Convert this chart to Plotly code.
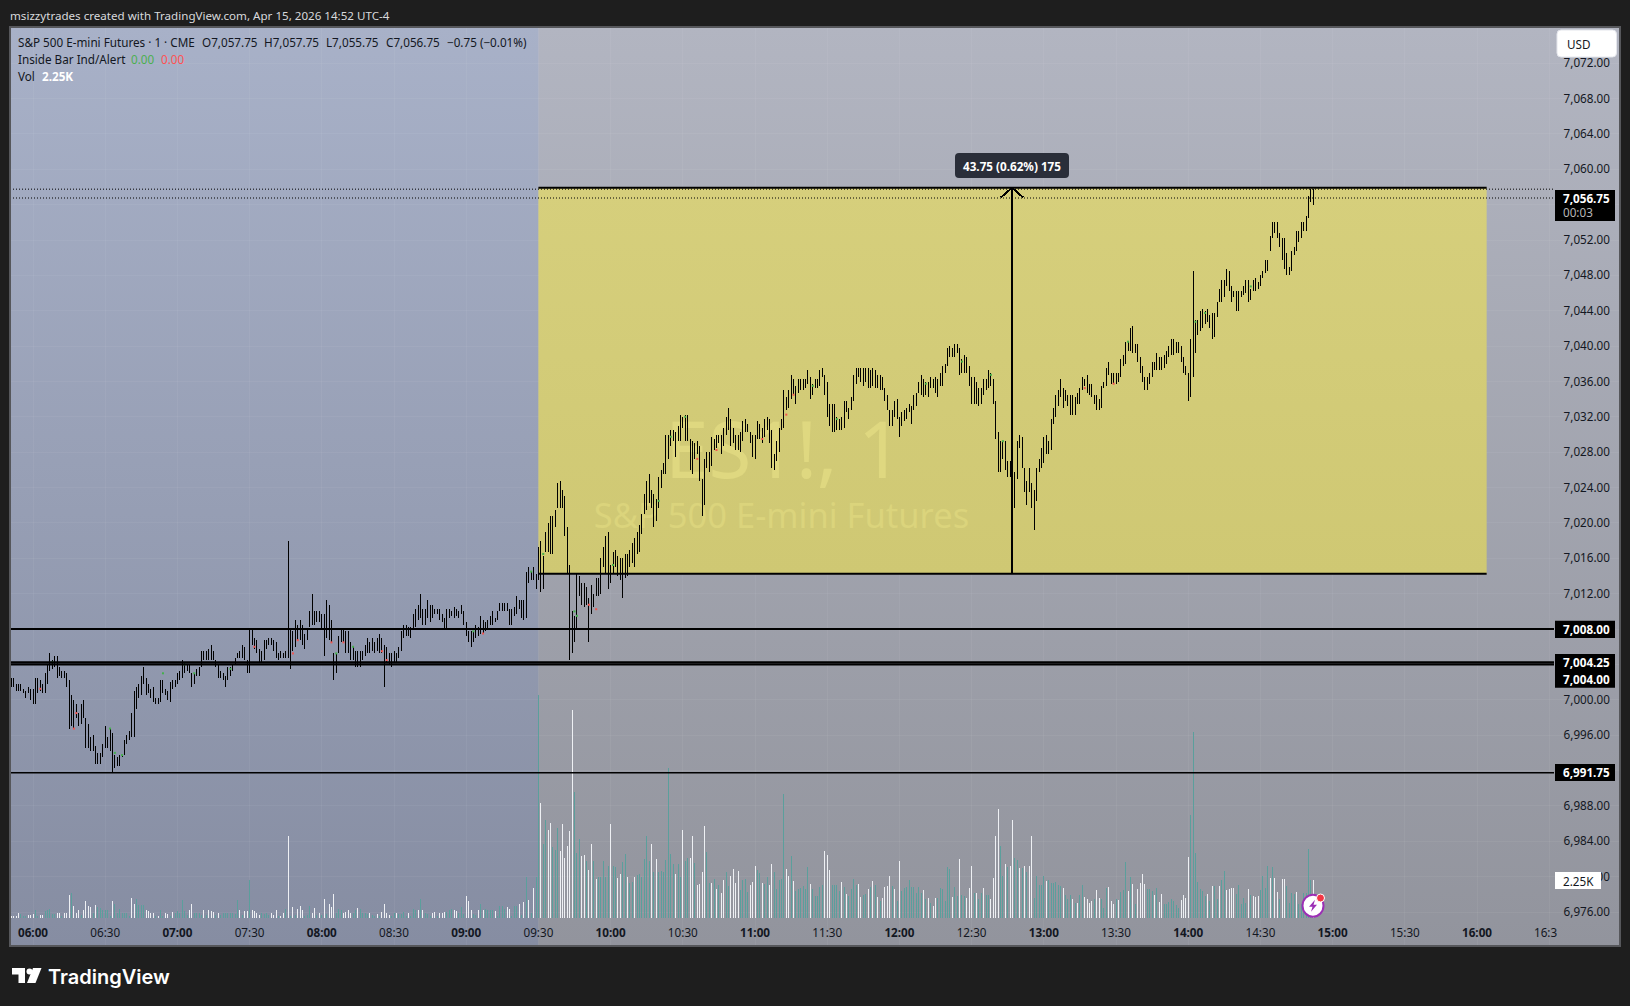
#!/usr/bin/env python3
"""ES1! 1 minute chart, Apr 15 2026, TradingView look."""

from datetime import datetime, timedelta

import plotly.graph_objects as go

W, H = 1630, 1006
FONT = "Noto Sans"

# 1 minute bars, first bar 05:51
price_high = [
    7002.5, 7002.5, 7001.75, 7001.75, 7001.75, 7001.25, 7001, 7001.5, 7001.25, 7001.25,
    7002.5, 7002.5, 7002.25, 7001.75, 7003, 7004, 7005.25, 7004.5, 7005, 7005,
    7003.75, 7003.25, 7003.25, 7003, 7002.25, 7000.5, 7000, 6999.5, 6998.5, 6999.5,
    7000, 6998, 6997.25, 6995.75, 6996, 6994.75, 6994, 6994, 6995, 6997,
    6995.75, 6996.75, 6996.25, 6993.75, 6993.5, 6993.75, 6993.75, 6995.5, 6996, 6996.5,
    6998.5, 7001, 7001.5, 7001.75, 7002.75, 7003.75, 7002.5, 7001.75, 7001.25, 7001.5,
    7000.25, 7000.25, 7002.25, 7002.25, 7001.25, 7001, 7002, 7002.25, 7002.25, 7003,
    7003.25, 7004.5, 7004.25, 7004, 7004, 7003, 7003, 7003.5, 7003.75, 7005.5,
    7005.5, 7005.5, 7005.75, 7006.25, 7005.5, 7004.5, 7004, 7003.25, 7003, 7002.75,
    7003.75, 7003.75, 7004, 7004.75, 7005.25, 7005.5, 7006.25, 7006, 7004.5, 7008,
    7008, 7007, 7006.75, 7005.75, 7005.5, 7006.75, 7006.75, 7007, 7007, 7006.75,
    7006.5, 7005.25, 7005.5, 7005.25, 7005.5, 7018, 7008, 7007.75, 7009, 7008.5,
    7009, 7008.5, 7007.5, 7008, 7010, 7012, 7010, 7010, 7010, 7009.75,
    7009.75, 7011.25, 7010.75, 7009, 7005.25, 7005.25, 7007.25, 7008, 7008, 7007.75,
    7007.75, 7006.5, 7006, 7005.5, 7005.5, 7005.5, 7005.5, 7006.25, 7007, 7006.5,
    7007, 7006.5, 7007, 7007.5, 7007, 7006.25, 7006, 7005.25, 7005.25, 7005.5,
    7005.25, 7006, 7007.75, 7008.5, 7008.5, 7008.25, 7008.25, 7009.75, 7010.25, 7010.75,
    7012, 7010.25, 7010.25, 7011.25, 7010.75, 7010.75, 7010.25, 7010.25, 7010.25, 7009.75,
    7009.25, 7010.25, 7010.25, 7010, 7010.5, 7010.25, 7010, 7010.75, 7010, 7008.75,
    7007.75, 7007.75, 7007.75, 7008.5, 7008.25, 7009.5, 7009, 7008.75, 7009, 7009.5,
    7010, 7009.25, 7010, 7011, 7011, 7011, 7011, 7010.25, 7010.25, 7010.5,
    7011.75, 7011.25, 7011.25, 7011.25, 7014.5, 7015, 7014.5, 7015, 7014.25,
    7017, 7017.75, 7016, 7018.75, 7019.75, 7020.5, 7020.5, 7021.25, 7024.25, 7024.5,
    7023.5, 7022.75, 7019.25, 7015, 7009.75, 7009.25, 7014, 7013.75, 7013, 7013,
    7012.5, 7011.25, 7012.75, 7011.75, 7013.5, 7013.5, 7015.75, 7017, 7018.25, 7018.75,
    7015, 7016.5, 7016.75, 7016, 7015.75, 7015.75, 7016.25, 7016.25, 7016.75, 7017.5,
    7018, 7018.75, 7019.5, 7020.75, 7023, 7024.5, 7025.25, 7023.5, 7023, 7022.5,
    7025, 7025.75, 7026.5, 7029.75, 7029.75, 7030.25, 7030.25, 7030, 7030.75, 7032,
    7031.75, 7032, 7032, 7029.25, 7029, 7028.75, 7029, 7028.5, 7024.75, 7027,
    7027.75, 7027.75, 7029.5, 7029.25, 7029.75, 7029.75, 7029.75, 7030.5, 7031.75, 7032.75,
    7031.5, 7030.5, 7029.75, 7029.75, 7030, 7031.25, 7031.5, 7031, 7030, 7029.75,
    7029.75, 7031.25, 7031, 7030.5, 7031.5, 7031.75, 7031.5, 7030.25, 7027.5, 7029,
    7030.5, 7031.5, 7034.75, 7034, 7034.75, 7036.5, 7036, 7035.25, 7036, 7036,
    7036, 7036, 7037, 7036.25, 7035.5, 7036, 7036, 7037, 7037.25, 7036.5,
    7035.75, 7033.25, 7033.25, 7033.25, 7031.75, 7031.5, 7031.75, 7033.5, 7033.5, 7032.75,
    7034, 7036.5, 7037.25, 7037.25, 7037.25, 7037.25, 7037.25, 7037.25, 7037, 7037.25,
    7037, 7036.5, 7036.5, 7036.25, 7035, 7034.25, 7032.5, 7032.5, 7033.5, 7033.75,
    7031.75, 7032.25, 7032.5, 7032.75, 7033.25, 7033, 7034.25, 7034.5, 7035.75, 7036.5,
    7036, 7035.75, 7035.75, 7036.25, 7036, 7036.25, 7036, 7036.75, 7037.5, 7037.75,
    7039.5, 7039.75, 7039.5, 7040, 7040, 7039.5, 7038.25, 7038.75, 7038.5, 7037.5,
    7036.25, 7036.25, 7035.75, 7035, 7035, 7036, 7036, 7037, 7036.75, 7036,
    7033.5, 7030, 7029, 7029, 7029, 7026.75, 7026.75, 7026.75, 7025.5, 7029,
    7029.75, 7029.5, 7026, 7024.5, 7026, 7024.25, 7023.5, 7026, 7027, 7028.25,
    7029.5, 7029.75, 7029, 7031.5, 7032.75, 7034.25, 7034.75, 7036, 7035, 7034.75,
    7034.25, 7034.25, 7034.25, 7034, 7034.5, 7035, 7036.25, 7036, 7036.5, 7035.5,
    7035.5, 7034.25, 7034.25, 7033.75, 7035.25, 7035.75, 7037.25, 7038, 7036.75, 7036.75,
    7036.75, 7036.75, 7038.25, 7038.75, 7040.25, 7040.25, 7041.75, 7042, 7040, 7040,
    7038.5, 7037.5, 7036.25, 7036.25, 7036.75, 7038, 7038, 7039, 7038.5, 7038.5,
    7038.75, 7039.25, 7039.75, 7040.5, 7040.5, 7040.25, 7040.25, 7039.75, 7038.5, 7037.5,
    7036.75, 7040.5, 7048.25, 7042.75, 7042.75, 7043.75, 7044, 7043.75, 7044, 7043.25,
    7043.5, 7043.5, 7044.75, 7046.25, 7047.25, 7047.25, 7048.5, 7048.25, 7046.5, 7046,
    7046, 7046, 7046, 7046.5, 7047.25, 7047.25, 7046.25, 7047.25, 7047.5, 7047,
    7047.75, 7048.25, 7049.5, 7049.5, 7052.25, 7053.75, 7053.75, 7053.75, 7052.5, 7052,
    7052, 7050.25, 7048.75, 7050.5, 7051, 7052.75, 7052.75, 7053.75, 7053.75, 7054.5,
    7056.75, 7057.75, 7057.75,
]
price_low = [
    7001.5, 7001.5, 7001, 7001, 7001, 7000.75, 7000.25, 7000.75, 7000, 6999.5,
    6999.5, 7000.75, 7001, 7000.75, 7000.75, 7001.75, 7003.25, 7003.5, 7003.75, 7002.5,
    7002.75, 7002.5, 7002.5, 7001.5, 6996.75, 6997, 6996.75, 6998, 6997, 6997.25,
    6998, 6994.5, 6994.5, 6994.25, 6994.25, 6992.75, 6992.75, 6992.75, 6993.5, 6994.5,
    6994.5, 6994.25, 6991.75, 6992.25, 6992.5, 6992.5, 6993.5, 6993.75, 6995, 6995.5,
    6995.75, 6995.75, 6999, 7000.25, 7000.5, 7001.75, 7000.5, 7000.75, 7000.25, 6999.75,
    6999.5, 6999.5, 6999.75, 7000.75, 7000.5, 7000, 6999.75, 7001.25, 7001.5, 7001.75,
    7002.25, 7002.5, 7003, 7003.25, 7003, 7001.5, 7001.75, 7002.75, 7002.75, 7003.75,
    7004.5, 7004.5, 7004.5, 7004.5, 7004.5, 7003.75, 7002.5, 7002.5, 7002.25, 7001.5,
    7002.25, 7002.75, 7003.25, 7004, 7004.75, 7004.75, 7004.75, 7004.5, 7003, 7003,
    7006.25, 7005.75, 7005.25, 7004.25, 7004.25, 7004.5, 7005.75, 7006.25, 7006.25, 7005.5,
    7004.75, 7004.5, 7004.75, 7004.75, 7004.75, 7004.75, 7003.5, 7005.5, 7006, 7006.75,
    7006.75, 7006.25, 7005.75, 7006.75, 7008.25, 7008.5, 7008.5, 7008.75, 7008.75, 7008,
    7005, 7007, 7006.75, 7006.5, 7002.25, 7003, 7005.25, 7006.5, 7006.5, 7005.25,
    7005.25, 7004.5, 7004.5, 7003.75, 7003.75, 7003.75, 7004.5, 7005, 7005.25, 7005.25,
    7005.5, 7005.25, 7005.5, 7005.25, 7005.25, 7001.5, 7004.25, 7004, 7003.75, 7004.25,
    7004.25, 7004.75, 7005.5, 7007, 7007.25, 7007.25, 7007, 7008, 7008.25, 7009,
    7009.25, 7008.5, 7008.5, 7009.25, 7008.75, 7009.25, 7009.75, 7009.75, 7009, 7008.75,
    7008, 7008, 7009.25, 7009.5, 7009.25, 7009.5, 7009.25, 7009.75, 7008.5, 7007.25,
    7006.5, 7006, 7006.5, 7007, 7007.25, 7007.5, 7007.5, 7007.75, 7008, 7008.5,
    7008.5, 7008.75, 7009, 7010, 7010, 7010, 7010, 7008.5, 7008.5, 7009.5,
    7009.75, 7010.25, 7009.25, 7009, 7009.25, 7013.25, 7013.5, 7013.5, 7012.5,
    7013.25, 7012, 7012.25, 7016.5, 7016.5, 7016.25, 7016.25, 7019.25, 7021.5, 7021.5,
    7021.5, 7018.25, 7014, 7004.25, 7005, 7006.25, 7007.75, 7011.5, 7010.5, 7010.25,
    7010.5, 7006.25, 7009.5, 7010.25, 7011.5, 7011.5, 7011.75, 7014.75, 7014, 7012.25,
    7013, 7014, 7014.75, 7013.75, 7013.25, 7011.25, 7013.5, 7013.75, 7014.75, 7015.25,
    7014.75, 7016.25, 7016.5, 7018.5, 7020.75, 7021.25, 7022, 7021.5, 7019.25, 7020,
    7021.5, 7023.75, 7025.25, 7025.25, 7027, 7028.5, 7029, 7027.25, 7029, 7029,
    7030.5, 7029, 7029, 7025.75, 7025.25, 7027, 7027.5, 7024.5, 7020.5, 7021.75,
    7026, 7025.5, 7026.25, 7028, 7028.25, 7028.75, 7027.5, 7028.5, 7029.75, 7030.25,
    7028.5, 7028.75, 7028, 7028, 7027.75, 7029, 7030, 7030, 7028.75, 7027.25,
    7027, 7029.25, 7029.25, 7028.75, 7029.5, 7030.25, 7028.75, 7026, 7025.75, 7026.75,
    7027.75, 7030.25, 7030.5, 7032.5, 7032.75, 7033.75, 7034.25, 7033.25, 7034.5, 7034.75,
    7034.75, 7035, 7035.5, 7033.75, 7034.25, 7035, 7035, 7035.25, 7036.25, 7034.25,
    7031.75, 7030.75, 7030, 7030, 7030.25, 7030.25, 7030.25, 7030.5, 7032.25, 7031.5,
    7032.5, 7033.5, 7035.5, 7036.25, 7035.75, 7035.25, 7035.75, 7035, 7035, 7035.25,
    7035, 7035, 7034.75, 7034.75, 7033.5, 7032.5, 7030.75, 7030.75, 7031.75, 7031.5,
    7029.5, 7030.75, 7031.25, 7031.5, 7032.25, 7031, 7032.5, 7033, 7034.5, 7034.25,
    7034, 7034.25, 7034, 7035, 7035, 7034.5, 7034, 7035.25, 7035.25, 7036.75,
    7037.5, 7038.5, 7038.5, 7038.5, 7039, 7036.5, 7036.75, 7036.75, 7036.75, 7035.25,
    7033.25, 7033.25, 7033.25, 7033, 7033.25, 7034.25, 7034.75, 7035, 7035.25, 7033.25,
    7029.25, 7025.5, 7025.5, 7027, 7025.75, 7025, 7025, 7025, 7021.5, 7024.75,
    7028.25, 7026, 7023.25, 7021.75, 7023.25, 7021.5, 7019, 7022.25, 7025.5, 7026,
    7026.5, 7027.5, 7027.5, 7028, 7031, 7031.75, 7033, 7034, 7032.75, 7033.5,
    7033, 7032, 7032, 7032, 7033.25, 7033.25, 7034.75, 7035.25, 7034.5, 7034.25,
    7034, 7033.25, 7032.5, 7032.5, 7032.75, 7035, 7035.25, 7036.5, 7035.5, 7035.5,
    7035.5, 7035.75, 7036.25, 7037.5, 7037.75, 7039.25, 7039.25, 7039, 7039, 7038,
    7036.75, 7035.75, 7034.75, 7034.75, 7035.5, 7036.25, 7037, 7037, 7037, 7037,
    7037.25, 7037.75, 7038.5, 7038.75, 7038.75, 7039, 7039, 7038, 7036.75, 7036.5,
    7033.5, 7034, 7036.25, 7039, 7041, 7041.5, 7041.75, 7042.25, 7042.5, 7041.75,
    7040.5, 7040.75, 7043, 7044.75, 7044.75, 7045.25, 7046.5, 7046, 7044.75, 7045.25,
    7043.75, 7043.75, 7045.25, 7045.5, 7045.75, 7044.75, 7045, 7046, 7046, 7046.25,
    7046.5, 7047.5, 7048, 7048.25, 7050.5, 7052, 7052.5, 7052, 7051, 7049.5,
    7048.5, 7047.75, 7047.75, 7048.25, 7050, 7050.5, 7051.5, 7052, 7052.75, 7052.75,
    7054.25, 7056, 7055.75,
]

# volume in thousands, tone T = teal, W = white, same order as the bars
vol_k = [
    .1, .1, .1, .3, .25, .1, .1, .2, .2, .25, .5, .1, .2, .2, .4, .45, .55, .25, .25, .3,
    .3, .1, .3, .3, 1.35, 1.45, .7, .3, .45, .2, .5, 1.0, .7, .65, .3, .75, .65, .6, .5, .5,
    .45, .1, 1.0, .8, .3, .55, .3, .3, .3, .1, 1.2, .85, 1.1, .75, .75, .75, .5, .4, .3, .3,
    .1, .1, .5, .1, .3, .25, .1, .35, .3, .4, .3, 1.05, .4, .2, .45, .85, .3, .3, .3, .2,
    .45, .2, .45, .4, .35, .15, .3, .2, .3, .3, .3, .3, .3, .25, 1.05, .45, .15, .4, .4, 2.25,
    .45, .4, .3, .2, .3, .25, .3, .15, .3, .2, .45, .1, .1, .3, .55, 4.85, .1, .65, .15, .55,
    .7, .45, .1, .2, .7, .3, .6, .2, .3, .2, 1.1, .25, .85, .65, 1.4, .3, .55, .45, .3, .35,
    .45, .3, .3, .45, .6, .55, .3, .3, .25, .3, .2, .1, .25, .1, .35, .85, .3, .2, .1, .3,
    .3, .25, .25, .35, .1, .3, .1, .55, .45, .45, 1.1, .45, .3, .25, .1, .3, .35, .1, .3, .3,
    .35, .35, .45, .55, .45, .4, .3, .65, .25, 1.3, 1.0, .5, .25, .2, .45, .85, .45, .55, .5, .5,
    .5, .4, .1, .7, .7, .55, .65, .55, .1, .7, .7, .85, .2, .95, 2.45, 1.05, .3, 1.75, 2.45, 13.2,
    6.8, 4.4, 5.8, 5.2, 5.6, 4.2, 4.0, 5.3, 3.95, 5.55, 3.55, 4.25, 5.15, 12.3, 7.45, 3.85, 4.65, 3.65, 3.75, 3.4,
    2.85, 4.4, 3.4, 2.3, 2.45, 2.45, 3.4, 2.45, 3.05, 5.55, 3.1, 3.0, 2.35, 2.6, 3.3, 3.8, 2.45, 2.1, 2.15, 2.45,
    2.55, 2.6, 2.4, 3.5, 4.85, 3.4, 4.35, 2.75, 3.5, 2.75, 2.8, 2.75, 3.45, 8.85, 3.8, 3.2, 2.6, 3.2, 2.45, 5.2,
    3.35, 3.55, 3.55, 4.85, 3.25, 1.95, 2.0, 2.75, 5.45, 3.9, 2.1, 2.1, 2.3, 1.7, 1.95, 1.5, 2.25, 2.75, 1.9, 2.5,
    2.9, 2.1, 2.8, 1.65, 2.25, 2.3, 1.55, 1.95, 2.15, 3.05, 2.85, 2.65, 2.1, 2.0, 2.4, 1.95, 3.2, 2.75, 1.7, 2.25,
    2.3, 7.35, 2.9, 2.5, 3.65, 2.2, 1.6, 1.7, 1.8, 1.9, 1.7, 3.0, 2.0, 1.7, 1.3, 1.3, 1.85, 1.95, 3.95, 3.75,
    2.85, 1.95, 1.95, 1.95, 1.6, 2.15, 1.85, 1.4, 1.3, 1.7, 2.3, 1.95, 2.0, 1.25, 1.35, 1.4, 1.7, 1.85, 2.2, 1.95,
    1.25, 1.0, 1.2, 1.85, 1.9, 2.5, 1.9, 1.7, 1.0, 3.4, 1.6, 1.8, 1.85, 2.25, 1.85, 1.85, 1.5, 1.85, 1.45, 1.65,
    1.1, 1.2, .9, .7, 1.2, 1.2, 1.75, 1.7, 1.0, 3.0, 2.9, 1.25, 1.85, 1.3, 3.5, 1.35, 1.3, 1.2, 1.8, 3.05,
    1.45, 1.5, 1.15, 1.45, 1.8, 1.35, 1.35, 1.15, 2.35, 4.85, 6.45, 4.25, 2.5, 3.2, 3.0, 3.05, 5.8, 3.55, 3.45, 2.95,
    2.95, 3.05, 2.75, 3.05, 4.85, 1.2, 2.5, 1.95, 1.95, 2.5, 2.2, 2.25, 2.05, 2.05, 2.15, 1.95, 1.9, 1.8, 1.35, 1.15,
    1.35, 1.1, .9, .9, 1.35, 1.95, 1.25, 1.15, .9, 1.0, 1.15, 1.65, 1.2, 1.1, .6, 1.8, 1.85, 1.0, .85, 1.15,
    1.05, 1.55, 1.65, 3.3, 1.6, 2.4, 2.0, .8, 1.7, 2.1, 2.6, 2.0, 1.7, 1.7, 1.6, 1.35, 1.8, .95, 1.4, .8,
    .85, .95, 1.1, 1.0, .75, .6, 1.05, 1.35, 1.2, 3.6, 6.1, 11.0, 3.85, 2.15, 1.7, 1.6, 1.3, 1.4, 1.0, 1.9,
    1.9, 1.1, 1.9, 2.25, 2.8, 1.65, 1.7, 1.75, 1.8, 1.4, 1.95, .85, 1.2, .9, 1.7, 1.35, 1.3, 1.25, 1.3, 1.65,
    2.5, 1.75, 3.05, 2.35, 3.0, 2.35, 1.55, 1.1, 2.3, 2.3, 1.9, .9, 1.45, 1.4, 1.55, .8, .8, 1.45, 1.5, 4.1, 2.25, 2.25,
]
vol_tone = (
    "WWWWTTTWWWTTWWTTTTTW" "WTWWWTWWWTWWWWTWTTTT" "TTWTTTTTTTWWTTTTWWWW" "TWTTWWTWTTTTTTWWTTTT"
    "WTWWWTWTTTTTTTTWTWWT" "WWWWTTTTWWWTWWTWTWTW" "WWTTTWWTWTWTWWWTTTWW" "WWTTWTTTTWTTWTWWWWTT"
    "WTTTTWTTTWTWTTTWWTWW" "WTTTWWTTTWWWTTWTWTTT" "TWTTTTWWTTTWTWTWTWTT" "WTTWWTTTWWWWWWTTTWWT"
    "WWTWTTTTTWTTWWTTWTTW" "TTTTTTWTWTTTTTTTWTTW" "TTWWTWWWWTTWTWTWWTTW" "WWWTTTTWWWTTWTTWWTTT"
    "TTWWTWTTTTTTWTTTTTWW" "WTTTTWTWTTTTWWTTWTWT" "WTWWWWTWTWTTTTTTTTTW" "TWTWWTTTTTTWTTWTTWWW"
    "TWTTWTTWWWWTTWTWWTTW" "TWTWWTTTTTWTTTTTTWTT" "TWTWTTWWWWTWWTTTWWWT" "WTTTWTWTWWWWTTTWTWWT"
    "TTTTTTWWWWTTTTTTTWTW" "TTWTTWWWWTTTTTWTWWWT" "TTTWTWWTWWTTTTWTTTTTTW"
)
assert len(price_high) == len(price_low) == len(vol_k) == len(vol_tone)

# inside bar dots: minutes after 06:00 and price
green_min = [8, 32, 34, 37, 54, 63, 67, 82, 126, 133, 183, 207, 212, 225, 226, 241, 260, 265, 271, 324, 334, 371, 386, 398, 403, 455, 483, 487, 506]
green_px = [7004.25, 6996.75, 6994, 6993.75, 7003, 7004, 7003, 7003.5, 7005.25, 7006, 7007.75, 7014.5, 7016.25, 7009.75, 7009.25, 7015, 7022.25, 7029.5, 7031.75, 7035.25, 7031.5, 7035.5, 7038, 7036.5, 7029, 7040.25, 7042.5, 7043.5, 7046.5]
red_min = [3, 17, 18, 92, 108, 110, 124, 129, 145, 147, 187, 231, 234, 276, 284, 303, 313, 316, 437, 449]
red_px = [7001.25, 6996.75, 6998.5, 7006, 7005.25, 7006.75, 7006.5, 7006.5, 7005.5, 7004.5, 7007.5, 7010.5, 7010, 7027, 7028, 7029.25, 7032, 7034.25, 7035, 7035.5]

level_solid = [7008.0, 7004.25, 7004.0, 6991.75]
level_width = [2, 2.2, 2.2, 1.6]
box_low, box_high = 7014.25, 7057.9
prior_high, last_close = 7057.75, 7056.75
grid_prices = list(range(6976, 7076, 4))
hidden_prices = [6992, 7004, 7008, 7056]  # sit behind the black price tags
tick_prices = [p for p in grid_prices if p not in hidden_prices]
tick_minutes = list(range(0, 631, 30))

DAY0 = datetime(2026, 4, 15, 6, 0)
BG_LEFT = ["#868da2", "#a8b1c8"]
BG_RIGHT = ["#92949d", "#b2b5c1"]
BOX_FILL = ["#cfc873", "#d6cf7c"]

session = 210
# prices from 09:30 on were read against the box bottom taken as 7014.00, it is a quarter higher
READ_SHIFT = 0.25


def t(minute):
    return DAY0 + timedelta(minutes=minute)


def px(x):
    return x / W


def py(y):
    return 1 - y / H


def read_fix(mins, prices):
    return [min(p + READ_SHIFT, prior_high) if m >= session else p for m, p in zip(mins, prices)]


def panel(x0, x1, y0, y1, colors):
    return go.Scatter(
        x=[x0, x1, x1, x0, x0], y=[y0, y0, y1, y1, y0],
        mode="lines", line=dict(width=0), fill="toself",
        fillgradient=dict(type="vertical", colorscale=[[0, colors[0]], [1, colors[1]]]),
        hoverinfo="skip", showlegend=False,
    )


def sticks(xs, lows, highs, color, yaxis="y"):
    # vertical 1px strokes, None breaks the line between bars
    sx, sy = [], []
    for x, lo, hi in zip(xs, lows, highs):
        sx += [x, x, None]
        sy += [lo, hi, None]
    return go.Scatter(x=sx, y=sy, yaxis=yaxis, mode="lines", line=dict(color=color, width=1),
                      hoverinfo="skip", showlegend=False)


def rounded(x0, y0, x1, y1, r):
    return (f"M{px(x0 + r)},{py(y0)} L{px(x1 - r)},{py(y0)} Q{px(x1)},{py(y0)} {px(x1)},{py(y0 + r)} "
            f"L{px(x1)},{py(y1 - r)} Q{px(x1)},{py(y1)} {px(x1 - r)},{py(y1)} L{px(x0 + r)},{py(y1)} "
            f"Q{px(x0)},{py(y1)} {px(x0)},{py(y1 - r)} L{px(x0)},{py(y0 + r)} Q{px(x0)},{py(y0)} {px(x0 + r)},{py(y0)} Z")


def label(x, y, text, color="#131722", size=11.7, anchor="left", family=FONT, weight=None):
    font = dict(family=family, size=size, color=color)
    if weight:
        font["weight"] = weight
    return dict(xref="paper", yref="paper", x=px(x), y=py(y), text=text, showarrow=False,
                xanchor=anchor, yanchor="middle", font=font, borderpad=0, borderwidth=0)


def tag(y0, y1, x0=1555, x1=1615, color="#000000"):
    return dict(type="rect", xref="paper", yref="paper", x0=px(x0), x1=px(x1), y0=py(y0), y1=py(y1),
                fillcolor=color, line_width=0, layer="above")


minutes = list(range(-9, -9 + len(price_high)))
x_left, x_right = (10 - 33) / 2.4067, (1620 - 33) / 2.4067
y_top, y_bottom = 7076.09, 6972.16

fig = go.Figure()
# right panel runs underneath the left one so no seam shows at 09:30
fig.add_trace(panel(t(x_left), t(x_right), y_bottom, y_top, BG_RIGHT))
fig.add_trace(panel(t(x_left), t(session), y_bottom, y_top, BG_LEFT))

# faint grid, has to sit above the gradient panels
grid_x, grid_y = [], []
for m in tick_minutes:
    grid_x += [t(m), t(m), None]
    grid_y += [y_bottom, y_top, None]
for p in grid_prices:
    grid_x += [t(x_left), t(x_right), None]
    grid_y += [p, p, None]
fig.add_trace(go.Scatter(x=grid_x, y=grid_y, mode="lines", line=dict(color="rgba(255,255,255,0.05)", width=1),
                         hoverinfo="skip", showlegend=False))

box_right = 604
fig.add_trace(panel(t(session), t(box_right), box_low, box_high, BOX_FILL))

# watermark stays under the bars
fig.add_trace(go.Scatter(x=[t(312)], y=[7027.3], mode="text", text=["ES1!, 1"],
                         textfont=dict(family=FONT, size=78, color="#dfd880"), hoverinfo="skip", showlegend=False))
fig.add_trace(go.Scatter(x=[t(311)], y=[7020.4], mode="text", text=["S&P 500 E-mini Futures"],
                         textfont=dict(family=FONT, size=34.5, color="#dbd47c"), hoverinfo="skip", showlegend=False))

# high-low sticks
fig.add_trace(sticks([t(m) for m in minutes], read_fix(minutes, price_low), read_fix(minutes, price_high), "#000000"))

fig.add_trace(go.Scatter(x=[t(m) for m in green_min], y=read_fix(green_min, green_px), mode="markers",
                         marker=dict(symbol="square", size=2, color="#43b04a"), hoverinfo="skip", showlegend=False))
fig.add_trace(go.Scatter(x=[t(m) for m in red_min], y=read_fix(red_min, red_px), mode="markers",
                         marker=dict(symbol="square", size=2, color="#f2544f"), hoverinfo="skip", showlegend=False))

# measure arrow
arrow_m = 406.8
fig.add_trace(go.Scatter(x=[t(arrow_m), t(arrow_m)], y=[box_low, box_high], mode="lines",
                         line=dict(color="#000000", width=2), hoverinfo="skip", showlegend=False))
arrow_head = go.Scatter(x=[t(arrow_m - 4.7), t(arrow_m), t(arrow_m + 4.7)], y=[box_high - 1.1, box_high, box_high - 1.1],
                        mode="lines", line=dict(color="#000000", width=2), hoverinfo="skip", showlegend=False)
fig.add_trace(arrow_head)

# volume pane
for tone, color in (("T", "#5b9f9c"), ("W", "#eef0f4")):
    idx = [i for i, c in enumerate(vol_tone) if c == tone]
    fig.add_trace(sticks([t(minutes[i]) for i in idx], [0] * len(idx), [vol_k[i] for i in idx], color, yaxis="y2"))

shapes = []
# level lines run up to the price scale
for p, w in zip(level_solid, level_width):
    shapes.append(dict(type="line", xref="paper", yref="y", x0=px(10), x1=px(1554), y0=p, y1=p,
                       line=dict(color="#000000", width=w), layer="above"))
for p in (prior_high, last_close):
    shapes.append(dict(type="line", xref="paper", yref="y", x0=px(10), x1=px(1554), y0=p, y1=p,
                       line=dict(color="#000000", width=1, dash="1px 2px"), layer="above"))
for p in (box_low, box_high):
    shapes.append(dict(type="line", xref="x", yref="y", x0=t(session), x1=t(box_right), y0=p, y1=p,
                       line=dict(color="#000000", width=2), layer="above"))

# price tags
shapes.append(tag(190, 221))
shapes.append(tag(620.7, 638))
shapes.append(tag(654, 671))
shapes.append(tag(671, 687.7))
shapes.append(tag(764, 781))
shapes.append(tag(872, 889, x1=1601, color="#ffffff"))
shapes.append(dict(type="path", path=rounded(1557, 30, 1616.5, 57, 4), xref="paper", yref="paper",
                   fillcolor="#ffffff", line=dict(color="#e4e6ec", width=1), layer="above"))
# measure badge
shapes.append(dict(type="path", path=rounded(955, 153, 1069, 178, 4), xref="paper", yref="paper",
                   fillcolor="#2a2e39", line_width=0, layer="above"))
# frame
shapes.append(dict(type="rect", xref="paper", yref="paper", x0=px(10), x1=px(1620), y0=py(946), y1=py(27),
                   line=dict(color="#56575b", width=2), fillcolor="rgba(0,0,0,0)", layer="above"))

# alert badge next to the last bar
bx, by = 1313, 905.7
shapes.append(dict(type="circle", xref="paper", yref="paper", x0=px(bx - 10.5), x1=px(bx + 10.5), y0=py(by + 11), y1=py(by - 11),
                   fillcolor="#ffffff", line=dict(color="#9c2fb5", width=2), layer="above"))
bolt = [(bx + 2, by - 6), (bx - 4, by + 1), (bx - 0.5, by + 1), (bx - 2, by + 6), (bx + 4, by - 1), (bx + 0.5, by - 1)]
shapes.append(dict(type="path", xref="paper", yref="paper", fillcolor="#9c2fb5", line_width=0, layer="above",
                   path="M" + " L".join(f"{px(a)},{py(b)}" for a, b in bolt) + " Z"))
shapes.append(dict(type="circle", xref="paper", yref="paper", x0=px(bx + 3.5), x1=px(bx + 11.5), y0=py(by - 3.7), y1=py(by - 11.7),
                   fillcolor="#f23645", line=dict(color="#ffffff", width=1), layer="above"))

# TradingView logo
logo = [
    [(12, 968), (25, 968), (25, 983), (18.5, 983), (18.5, 974.5), (12, 974.5)],
    [(33, 968), (41.5, 968), (35.5, 983), (27, 983)],
]
for pts in logo:
    shapes.append(dict(type="path", xref="paper", yref="paper", fillcolor="#ffffff", line_width=0, layer="above",
                       path="M" + " L".join(f"{px(a)},{py(b)}" for a, b in pts) + " Z"))
shapes.append(dict(type="circle", xref="paper", yref="paper", x0=px(26.5), x1=px(32.5), y0=py(974.5), y1=py(968.5),
                   fillcolor="#ffffff", line_width=0, layer="above"))

annotations = [
    label(10, 15, "msizzytrades created with TradingView.com, Apr 15, 2026 14:52 UTC-4", color="#d8d9dc", size=11.6),
    label(18, 42, "S&P 500 E-mini Futures · 1 · CME"),
    label(202, 42, "O7,057.75"),
    label(264, 42, "H7,057.75"),
    label(326, 42, "L7,055.75"),
    label(386, 42, "C7,056.75"),
    label(447, 42, "−0.75 (−0.01%)"),
    label(18, 59, "Inside Bar Ind/Alert"),
    label(131, 59, "0.00", color="#4caf50"),
    label(161, 59, "0.00", color="#ff5252"),
    label(18, 76, "Vol"),
    label(42, 76, "<b>2.25K</b>", color="#ffffff"),
    label(1567, 44, "USD"),
    label(1012, 165.5, "<b>43.75 (0.62%) 175</b>", color="#ffffff", anchor="center"),
    label(1563, 198, "<b>7,056.75</b>", color="#ffffff"),
    label(1563, 212, "00:03", color="#b8b8b8"),
    label(1563, 629, "<b>7,008.00</b>", color="#ffffff"),
    label(1563, 662, "<b>7,004.25</b>", color="#ffffff"),
    label(1563, 679, "<b>7,004.00</b>", color="#ffffff"),
    label(1563, 772, "<b>6,991.75</b>", color="#ffffff"),
    label(1563, 880.5, "2.25K"),
    label(1534, 931.7, "16:3"),
    label(48, 976.5, "TradingView", color="#ffffff", size=20, family="Inter", weight=600),
]

tick_text = []
for m in tick_minutes[:-1]:
    s = f"{6 + m // 60:02d}:{m % 60:02d}"
    tick_text.append(f"<b>{s}</b>" if m % 60 == 0 else s)

fig.update_layout(
    width=W, height=H,
    margin=dict(l=0, r=0, t=0, b=0, pad=0),
    paper_bgcolor="#1e1e1e",
    plot_bgcolor="#1e1e1e",
    showlegend=False,
    shapes=shapes,
    annotations=annotations,
    font=dict(family=FONT, size=12, color="#131722"),
    xaxis=dict(
        domain=[px(10), px(1620)], type="date", range=[t(x_left), t(x_right)],
        tickvals=[t(m) for m in tick_minutes[:-1]], ticktext=tick_text,
        ticklabelposition="inside", ticklabelstandoff=4, ticks="", showgrid=False, zeroline=False,
        tickfont=dict(family=FONT, size=11.7, color="#131722"),
    ),
    yaxis=dict(
        domain=[py(946), py(27)], range=[y_bottom, y_top], side="right",
        tickvals=tick_prices, tickformat=",.2f",
        ticklabelposition="inside", ticklabelstandoff=7, ticks="", showgrid=False, zeroline=False,
        tickfont=dict(family=FONT, size=11.7, color="#131722"),
    ),
    yaxis2=dict(
        domain=[py(946), py(27)], overlaying="y", range=[-1.657, 52.72],
        showticklabels=False, ticks="", showgrid=False, zeroline=False,
    ),
)

# browser default body margin would push the fixed size figure off the window,
# and crisp strokes keep the 1px sticks black instead of smeared over two pixels
page_js = (
    "document.body.style.margin='0';"
    "document.head.insertAdjacentHTML('beforeend',"
    "'<style>.scatterlayer .js-line{shape-rendering:crispEdges}</style>');"
)
fig.write_html("out.html", config={"displayModeBar": False}, post_script=page_js)
